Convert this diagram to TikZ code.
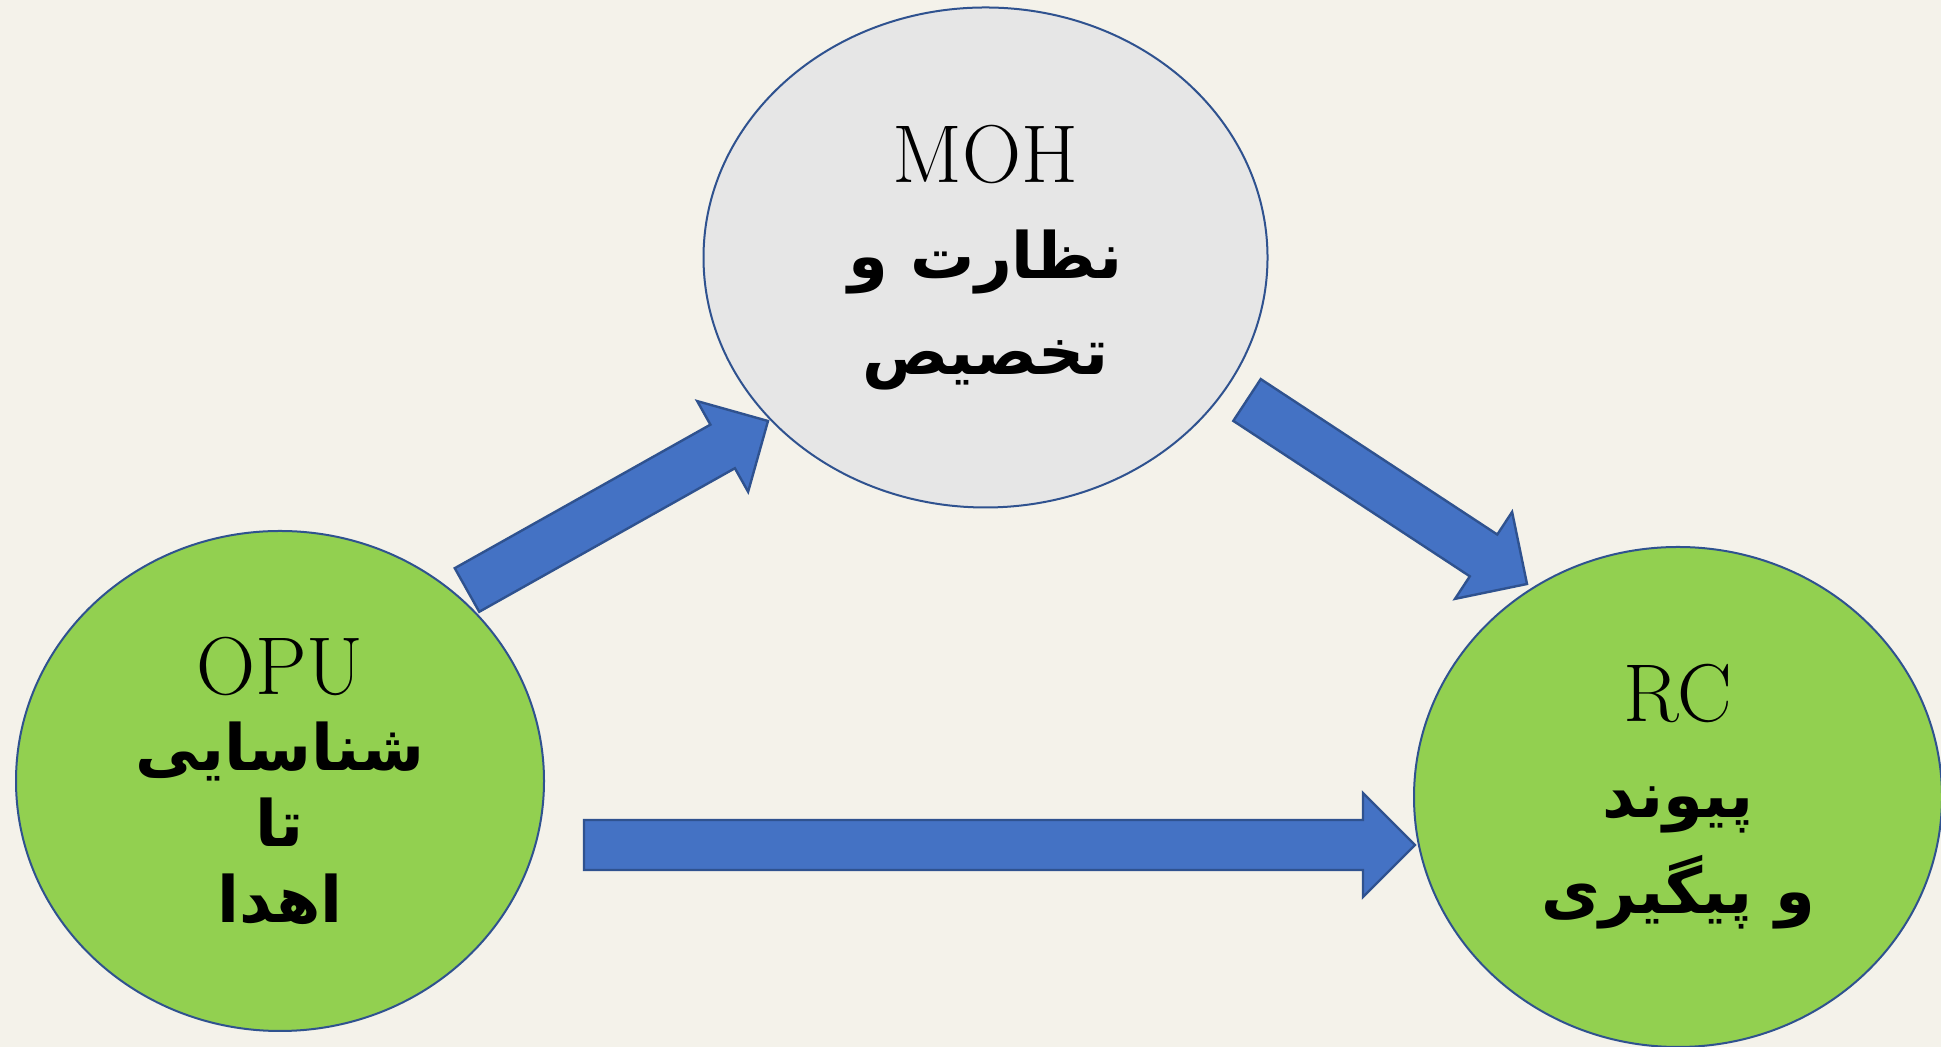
\documentclass[tikz,border=0pt]{standalone}
\usepackage{fontspec}
\newfontfamily\fafont[Script=Arabic]{DejaVu Sans}
\TeXXeTstate=1
\usepackage{tikz}
\usetikzlibrary{calc,shapes.geometric}

\definecolor{bgcream}{HTML}{F4F2EA}
\definecolor{ovalgreen}{HTML}{92D050}
\definecolor{ovalgrey}{HTML}{E6E6E6}
\definecolor{edgeblue}{HTML}{2F528F}
\definecolor{arrowblue}{HTML}{4472C4}

\newcommand{\fa}[1]{{\fafont\bfseries\fontsize{32pt}{48pt}\selectfont\beginR #1\endR}}

\begin{document}
\begin{tikzpicture}[
  x=0.5pt, y=0.5pt,
  oval/.style={ellipse, draw=edgeblue, line width=1pt, inner sep=0pt, align=center,
    minimum width=264pt, minimum height=250pt, font=\fontsize{41pt}{48pt}\selectfont},
  fat/.style={draw=edgeblue, fill=arrowblue, line width=1.2pt, line join=miter,
    to path={let \p1=(\tikztostart), \p2=(\tikztotarget),
      \n1={atan2(\y2-\y1,\x2-\x1)}, \n2={veclen(\x2-\x1,\y2-\y1)} in
      ($(\p1)+(\n1+90:12.5pt)$) -- ++(\n1:{\n2-26pt}) -- ++(\n1+90:13.5pt) -- (\p2)
      -- ($(\p1)+(\n1:{\n2-26pt})+(\n1-90:26pt)$) -- ++(\n1+90:13.5pt)
      -- ($(\p1)+(\n1-90:12.5pt)$) -- cycle}}
]
\useasboundingbox (0,0) rectangle (1941,1047);
\fill[bgcream] (0,0) rectangle (1941,1047);

\node[oval, fill=ovalgrey, minimum width=282pt] (moh) at (985.5,789.5)
  {MOH\\ \fa{نظارت و}\\ \fa{تخصیص}};
\node[oval, fill=ovalgreen, font=\fontsize{41pt}{38pt}\selectfont] (opu) at (280,266)
  {OPU\\ \fa{شناسایی}\\ \fa{تا}\\ \fa{اهدا}};
\node[oval, fill=ovalgreen] (rc) at (1678,250)
  {RC\\ \fa{پیوند}\\ \fa{و پیگیری}};

\coordinate (opuout) at (467,457);
\coordinate (mohin) at (768,626);
\coordinate (mohout) at (1247,647);
\coordinate (rcin) at (1527,463);
\coordinate (opuright) at (584,202);
\coordinate (rcleft) at (1415,202);

\draw[fat] (opuout) to (mohin);
\draw[fat] (mohout) to (rcin);
\draw[fat] (opuright) to (rcleft);
\end{tikzpicture}
\end{document}
